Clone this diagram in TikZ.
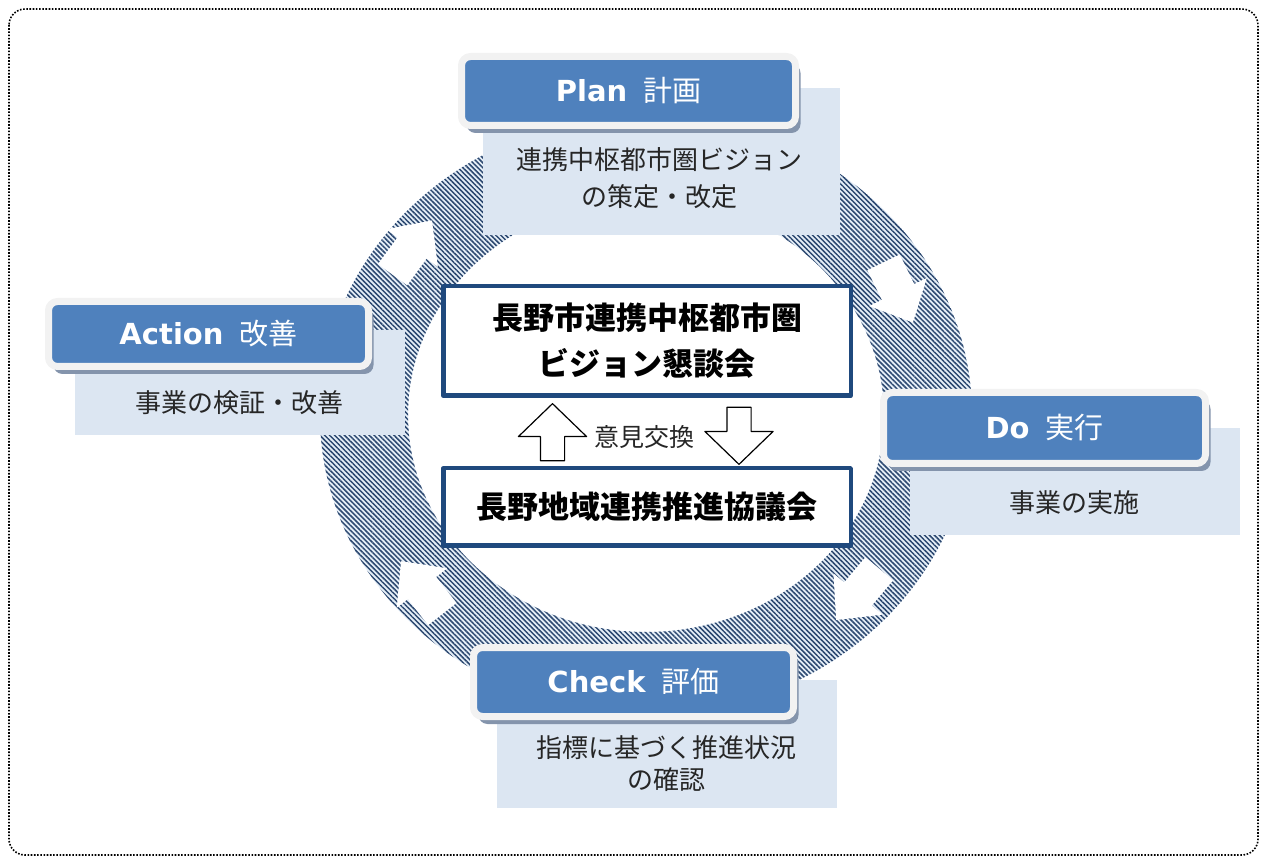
\documentclass[tikz,border=0pt]{standalone}
\usepackage{fontspec}
\setmainfont{Liberation Sans}
\newfontfamily\hdrlatin{DejaVu Sans}
\newfontfamily\jp{Noto Sans CJK JP}
\usetikzlibrary{shapes.arrows}
\usetikzlibrary{shadows}
\usetikzlibrary{patterns.meta}

\definecolor{hdrblue}{RGB}{79,129,189}
\definecolor{hdrrim}{RGB}{242,242,242}
\definecolor{hdrshadow}{RGB}{132,148,172}
\definecolor{capfill}{RGB}{220,230,242}
\definecolor{boxblue}{RGB}{31,73,125}
\definecolor{ringdark}{RGB}{44,72,112}
\definecolor{ringlight}{RGB}{230,239,248}

\begin{document}
\begin{tikzpicture}[x=1pt,y=-1pt,line join=round]
          \tikzstyle{every node}=[inner sep=0,outer sep=0]
          \tikzstyle{ring}=[even odd rule,preaction={fill=ringlight,even odd rule},pattern={Lines[angle=-45,distance=3.5pt,line width=1.5pt]},pattern color=ringdark]
          \tikzstyle{capbox}=[fill=capfill]
          \tikzstyle{captext}=[font=\jp\fontsize{26}{37}\selectfont,align=center,text=black!85]
          \tikzstyle{phase}=[draw=hdrrim,line width=7,fill=hdrblue,rounded corners=9,text=white,font=\hdrlatin\fontsize{29}{34}\selectfont\bfseries,drop shadow={shadow xshift=5pt,shadow yshift=-7.5pt,fill=hdrshadow,opacity=1}]
          \tikzstyle{council}=[draw=boxblue,line width=4.5,fill=white,font=\jp\bfseries\fontsize{31}{46}\selectfont,align=center]
          \tikzstyle{swap}=[single arrow,draw=black,line width=1.2,fill=white,inner sep=11.5,single arrow head extend=22,single arrow tip angle=92,minimum height=57,minimum width=67]
          \useasboundingbox (0,0) rectangle (1262,858);
          %
          \draw[dash pattern=on 1.6pt off 1.6pt,line width=1.6,rounded corners=16] (9,9) rectangle (1258,855);
          %
          \coordinate (hub) at (646,415);
          \path[ring] (hub) ellipse [x radius=326,y radius=300] (hub) ellipse [x radius=238,y radius=217];
          \foreach \px/\py/\ang in {412/248/54,898/292/-64,858/594/-130,422/588/128}
            \fill[white,shift={(\px,\py)},rotate=\ang] (-33,-18) -- (0,-18) -- (0,-32) -- (34,0) -- (0,32) -- (0,18) -- (-33,18) -- cycle;
          %
          \node [capbox,minimum width=357,minimum height=147] (plancap)   at (661.5,161.5) {};
          \node [capbox,minimum width=330,minimum height=105] (actioncap) at (240,382.5)   {};
          \node [capbox,minimum width=330,minimum height=107] (docap)     at (1075,481.5)  {};
          \node [capbox,minimum width=340,minimum height=128] (checkcap)  at (667,744)     {};
          \node [captext] (plannote)   at (659,178)  {連携中枢都市圏ビジョン\\の策定・改定};
          \node [captext] (actionnote) at (239,403)  {事業の検証・改善};
          \node [captext] (donote)     at (1074,503) {事業の実施};
          \node [captext,font=\jp\fontsize{26}{32}\selectfont] (checknote) at (666,764) {指標に基づく推進状況\\の確認};
          %
          \node [phase,minimum width=334,minimum height=69] (plan)   at (628.5,91)  {Plan\hspace{16pt}{\jp\mdseries 計画}};
          \node [phase,minimum width=320,minimum height=65] (action) at (208.5,334) {Action\hspace{16pt}{\jp\mdseries 改善}};
          \node [phase,minimum width=322,minimum height=71] (do)     at (1044.5,428) {Do\hspace{16pt}{\jp\mdseries 実行}};
          \node [phase,minimum width=320,minimum height=69] (check)  at (633.5,682) {Check\hspace{16pt}{\jp\mdseries 評価}};
          %
          \node [council,minimum width=407.5,minimum height=109.5] (vision) at (647,341) {長野市連携中枢都市圏\\ビジョン懇談会};
          \node [council,minimum width=407.5,minimum height=77.5]  (region) at (647,507) {長野地域連携推進協議会};
          \node [swap,shape border rotate=90]  (upward)   at (552.5,438) {};
          \node [swap,shape border rotate=270] (downward) at (739,430)   {};
          \node [font=\jp\fontsize{25}{30}\selectfont,text=black!85] (talk) at (644,437) {意見交換};
\end{tikzpicture}
\end{document}
